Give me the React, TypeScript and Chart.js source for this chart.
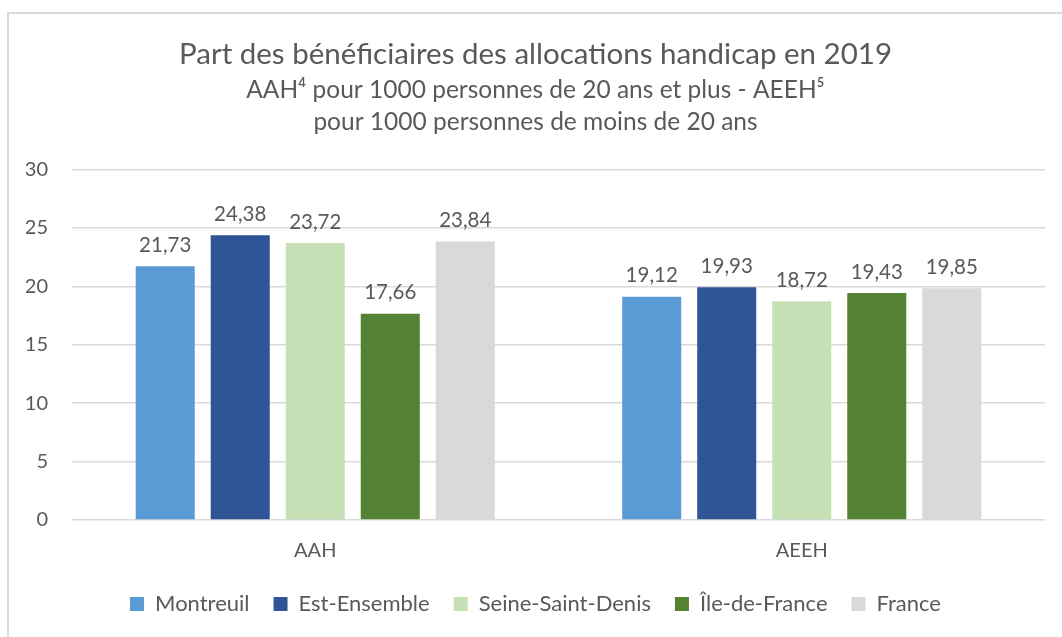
import React, { useEffect, useRef } from "react";
import Chart from "chart.js/auto";

const categories = ["AAH", "AEEH"];
const seriesNames = ["Montreuil", "Est-Ensemble", "Seine-Saint-Denis", "Île-de-France", "France"];
const montreuil = [21.73, 19.12];
const estEnsemble = [24.38, 19.93];
const seineSaintDenis = [23.72, 18.72];
const ileDeFrance = [17.66, 19.43];
const france = [23.84, 19.85];
const seriesColors = ["#5B9BD5", "#2F5597", "#C5E0B4", "#548235", "#D9D9D9"];
const yTicks = [0, 5, 10, 15, 20, 25, 30];

const FONT = "Lato, 'Open Sans', sans-serif";
const TEXT = "#595959";

const valueLabels = {
  id: "valueLabels",
  afterDatasetsDraw(chart: any) {
    const ctx = chart.ctx;
    ctx.save();
    ctx.font = `20.5px ${FONT}`;
    ctx.fillStyle = TEXT;
    ctx.textAlign = "center";
    ctx.textBaseline = "middle";
    chart.data.datasets.forEach((ds: any, i: number) => {
      const meta = chart.getDatasetMeta(i);
      meta.data.forEach((bar: any, j: number) => {
        const v = ds.data[j];
        ctx.fillText(v.toFixed(2).replace(".", ","), bar.x, bar.y - 21);
      });
    });
    ctx.restore();
  },
};

export default function App() {
  const ref = useRef<HTMLCanvasElement>(null);
  useEffect(() => {
    const data = [montreuil, estEnsemble, seineSaintDenis, ileDeFrance, france];
    const chart = new Chart(ref.current!, {
      type: "bar",
      data: {
        labels: categories,
        datasets: seriesNames.map((name, i) => ({
          label: name,
          data: data[i],
          backgroundColor: seriesColors[i],
          borderWidth: 0,
          categoryPercentage: 0.771,
          barPercentage: 0.787,
        })),
      },
      options: {
        animation: false,
        responsive: false,
        maintainAspectRatio: false,
        layout: { padding: { left: 17, right: 19, top: 0, bottom: 14 } },
        plugins: {
          title: {
            display: true,
            text: "Part des bénéficiaires des allocations handicap en 2019",
            color: TEXT,
            font: { family: FONT, size: 29.5, weight: "normal", lineHeight: 1.2 },
            padding: { top: 23, bottom: 2 },
          },
          subtitle: {
            display: true,
            text: ["AAH⁴ pour 1000 personnes de 20 ans et plus - AEEH⁵", "pour 1000 personnes de moins de 20 ans"],
            color: TEXT,
            font: { family: FONT, size: 24.5, weight: "normal", lineHeight: 1.31 },
            padding: { top: 0, bottom: 31 },
          },
          legend: {
            position: "bottom",
            labels: {
              color: TEXT,
              font: { family: FONT, size: 22 },
              boxWidth: 14,
              boxHeight: 14,
              padding: 24,
            },
          },
          tooltip: { enabled: false },
        },
        scales: {
          x: {
            grid: { display: false, drawTicks: false },
            border: { display: false },
            ticks: { color: TEXT, font: { family: FONT, size: 20 }, padding: 19 },
            afterFit: (axis: any) => {
              axis.height = 49;
            },
          },
          y: {
            min: 0,
            max: 30,
            afterBuildTicks: (axis: any) => {
              axis.ticks = yTicks.map((v) => ({ value: v }));
            },
            afterFit: (axis: any) => {
              axis.width = 46;
            },
            grid: { color: "#D9D9D9", lineWidth: 1.5, drawTicks: false },
            border: { display: false },
            ticks: { color: TEXT, font: { family: FONT, size: 20 }, padding: 24 },
          },
        },
      },
      plugins: [valueLabels],
    });
    return () => chart.destroy();
  }, []);
  return (
    <div
      style={{
        position: "absolute",
        left: 7,
        top: 12,
        width: 1070,
        height: 640,
        borderTop: "2px solid #D9D9D9",
        borderLeft: "2px solid #D9D9D9",
        background: "#fff",
      }}
    >
      <canvas ref={ref} width={1055} height={625} style={{ display: "block" }} />
    </div>
  );
}
